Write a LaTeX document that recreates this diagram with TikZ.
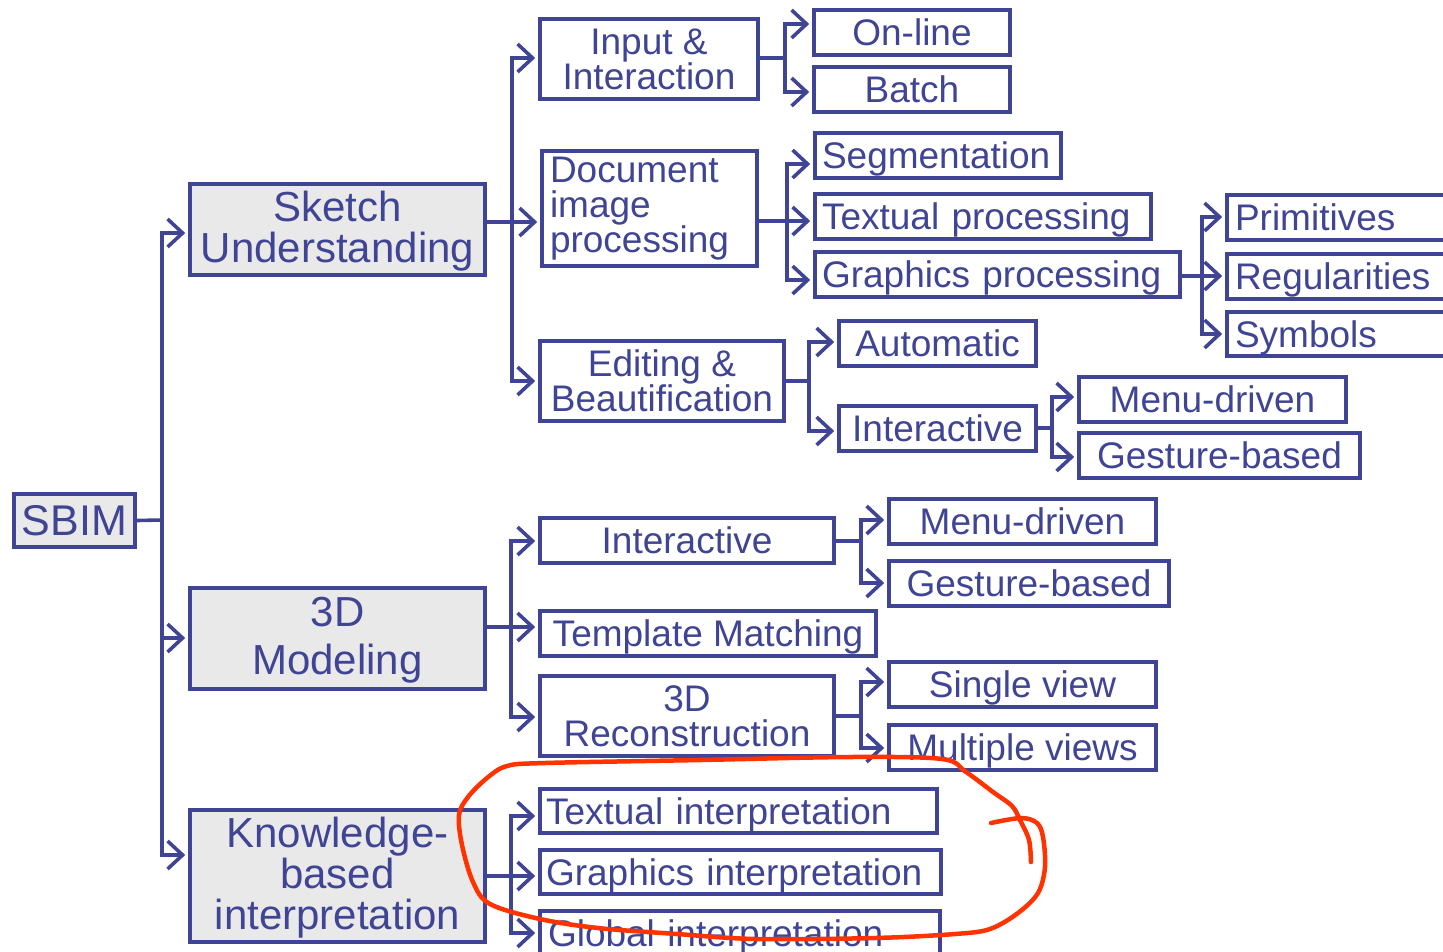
\documentclass[tikz,border=0pt]{standalone}
\usepackage{fontspec}
\setmainfont{Liberation Sans}
\usetikzlibrary{arrows.meta}
\definecolor{sb}{RGB}{63,68,148}
\definecolor{sbfill}{RGB}{233,233,233}
\definecolor{redpen}{RGB}{255,51,0}
\newcommand\bx[7][]{\node[box,minimum width={#5-#3},minimum height={#6-#4},#1] (#2) at ({(#3+#5)/2},{(#4+#6)/2}) {#7};}
\begin{document}
\begin{tikzpicture}[x=1pt,y=-1pt,
  box/.style={draw=sb, line width=3.6pt, text=sb, inner sep=0pt, font=\fontsize{37}{35}\selectfont, align=center},
  big/.style={fill=sbfill, font=\fontsize{42}{41}\selectfont},
  one/.style={text height=34pt, text depth=8pt},
  lft/.style={align=left},
  ln/.style={draw=sb, line width=3.6pt},
  arr/.style={ln, -{Straight Barb[length=15pt,width=28pt]}, shorten >=3pt},
  scribble/.style={draw=redpen, line width=4.5pt, line cap=round, line join=round}
]
\useasboundingbox (0,0) rectangle (1443,951);
\clip (0,0) rectangle (1443,951);

% level 0 and 1
\bx[big,one,text height=38pt,font=\fontsize{43}{41}\selectfont]{sbim}{14}{494}{135}{547}{SBIM}
\bx[big]{sk}{190}{184}{485}{275}{\rule{0pt}{33pt}Sketch\\Understanding}
\bx[big]{m3d}{190}{588}{485}{689}{\rule{0pt}{33pt}3D\\[7pt]Modeling}
\bx[big]{kb}{190}{810}{485}{942}{\rule{0pt}{33pt}Knowledge-\\based\\interpretation}

% sketch understanding branch
\bx{inp}{540}{19}{758}{99}{Input \&\\Interaction}
\bx[lft,text width=199pt,inner xsep=8pt]{doc}{542}{151}{757}{266}{Document\\image\\processing}
\bx{ed}{540}{341}{784}{421}{Editing \&\\Beautification}

\bx[one]{onl}{814}{10}{1010}{55}{On-line}
\bx[one]{bat}{814}{67}{1010}{112}{Batch}
\bx[one,lft,text width=232pt,inner xsep=7pt]{seg}{815}{133}{1061}{178}{Segmentation}
\bx[one,lft,text width=322pt,inner xsep=7pt]{tp}{815}{194}{1151}{239}{Textual processing}
\bx[one,lft,text width=351pt,inner xsep=7pt]{gp}{815}{252}{1180}{297}{Graphics processing}
\bx[one,lft,text width=227pt,inner xsep=8pt]{pri}{1227}{195}{1470}{240}{Primitives}
\bx[one,lft,text width=227pt,inner xsep=8pt]{reg}{1227}{254}{1470}{299}{Regularities}
\bx[one,lft,text width=227pt,inner xsep=8pt]{sym}{1227}{312}{1470}{356}{Symbols}
\bx[one]{aut}{839}{321}{1036}{366}{Automatic}
\bx[one]{ia}{839}{406}{1036}{451}{Interactive}
\bx[one]{md1}{1079}{377}{1346}{422}{Menu-driven}
\bx[one]{gb1}{1079}{433}{1360}{478}{Gesture-based}

% 3D modeling branch
\bx[one]{ib}{540}{518}{834}{563}{Interactive}
\bx[one]{tm}{540}{611}{876}{656}{Template Matching}
\bx{rec}{540}{676}{834}{756}{3D\\Reconstruction}
\bx[one]{md2}{889}{499}{1156}{544}{Menu-driven}
\bx[one]{gb2}{889}{561}{1169}{606}{Gesture-based}
\bx[one]{sv}{889}{662}{1156}{707}{Single view}
\bx[one]{mv}{889}{725}{1156}{770}{Multiple views}

% knowledge branch
\bx[one,lft,text width=385pt,inner xsep=6pt]{ti}{540}{789}{937}{833}{Textual interpretation}
\bx[one,lft,text width=389pt,inner xsep=6pt]{gi}{540}{850}{941}{894}{Graphics interpretation}
\bx[one,lft,text width=384pt,inner xsep=8pt]{gl}{540}{911}{940}{955}{Global interpretation}

% junctions
\coordinate (j0) at (162,520);
\coordinate (j1) at (512,222);
\coordinate (j2) at (785,58);
\coordinate (j3) at (787,221);
\coordinate (j4) at (1202,276);
\coordinate (j5) at (809,381);
\coordinate (j6) at (1052,428);
\coordinate (j7) at (511,627);
\coordinate (j8) at (861,541);
\coordinate (j9) at (861,716);
\coordinate (j10) at (511,876);

% connectors
\draw[ln] (sbim.east) -- (j0);
\draw[arr] (j0) |- (sk.west |- 0,233);
\draw[arr] (j0) |- (m3d.west |- 0,638);
\draw[arr] (j0) |- (kb.west |- 0,855);

\draw[ln] (sk.east |- j1) -- (j1);
\draw[arr] (j1) |- (inp.west |- 0,58);
\draw[arr] (j1) -- (doc.west |- j1);
\draw[arr] (j1) |- (ed.west |- 0,381);

\draw[ln] (inp.east |- j2) -- (j2);
\draw[arr] (j2) |- (onl.west |- 0,24);
\draw[arr] (j2) |- (bat.west |- 0,92);

\draw[ln] (doc.east |- j3) -- (j3);
\draw[arr] (j3) |- (seg.west |- 0,164);
\draw[arr] (j3) -- (tp.west |- j3);
\draw[arr] (j3) |- (gp.west |- 0,280);

\draw[ln] (gp.east |- j4) -- (j4);
\draw[arr] (j4) |- (pri.west |- 0,217);
\draw[arr] (j4) -- (reg.west |- j4);
\draw[arr] (j4) |- (sym.west |- 0,334);

\draw[ln] (ed.east |- j5) -- (j5);
\draw[arr] (j5) |- (aut.west |- 0,342);
\draw[arr] (j5) |- (ia.west |- 0,431);

\draw[ln] (ia.east |- j6) -- (j6);
\draw[arr] (j6) |- (md1.west |- 0,397);
\draw[arr] (j6) |- (gb1.west |- 0,457);

\draw[ln] (m3d.east |- j7) -- (j7);
\draw[arr] (j7) |- (ib.west |- 0,541);
\draw[arr] (j7) -- (tm.west |- j7);
\draw[arr] (j7) |- (rec.west |- 0,717);

\draw[ln] (ib.east |- j8) -- (j8);
\draw[arr] (j8) |- (md2.west |- 0,520);
\draw[arr] (j8) |- (gb2.west |- 0,583);

\draw[ln] (rec.east |- j9) -- (j9);
\draw[arr] (j9) |- (sv.west |- 0,682);
\draw[arr] (j9) |- (mv.west |- 0,748);

\draw[ln] (kb.east |- j10) -- (j10);
\draw[arr] (j10) |- (ti.west |- 0,816);
\draw[arr] (j10) -- (gi.west |- j10);
\draw[arr] (j10) |- (gl.west |- 0,933);

% red hand-drawn loop
\draw[scribble] plot[smooth,tension=0.55] coordinates {(991,823) (1021,818) (1037,823) (1043,837) (1045,867) (1038,893) (1018,913) (990,929) (955,934) (875,938) (756,939) (677,934) (598,928) (540,919) (490,904) (473,882) (462,845) (459,815) (468,797) (487,778) (507,766) (545,763) (700,760) (850,757) (942,759) (966,772) (993,792) (1012,806) (1020,820) (1029,840) (1031,862)};
\end{tikzpicture}
\end{document}
